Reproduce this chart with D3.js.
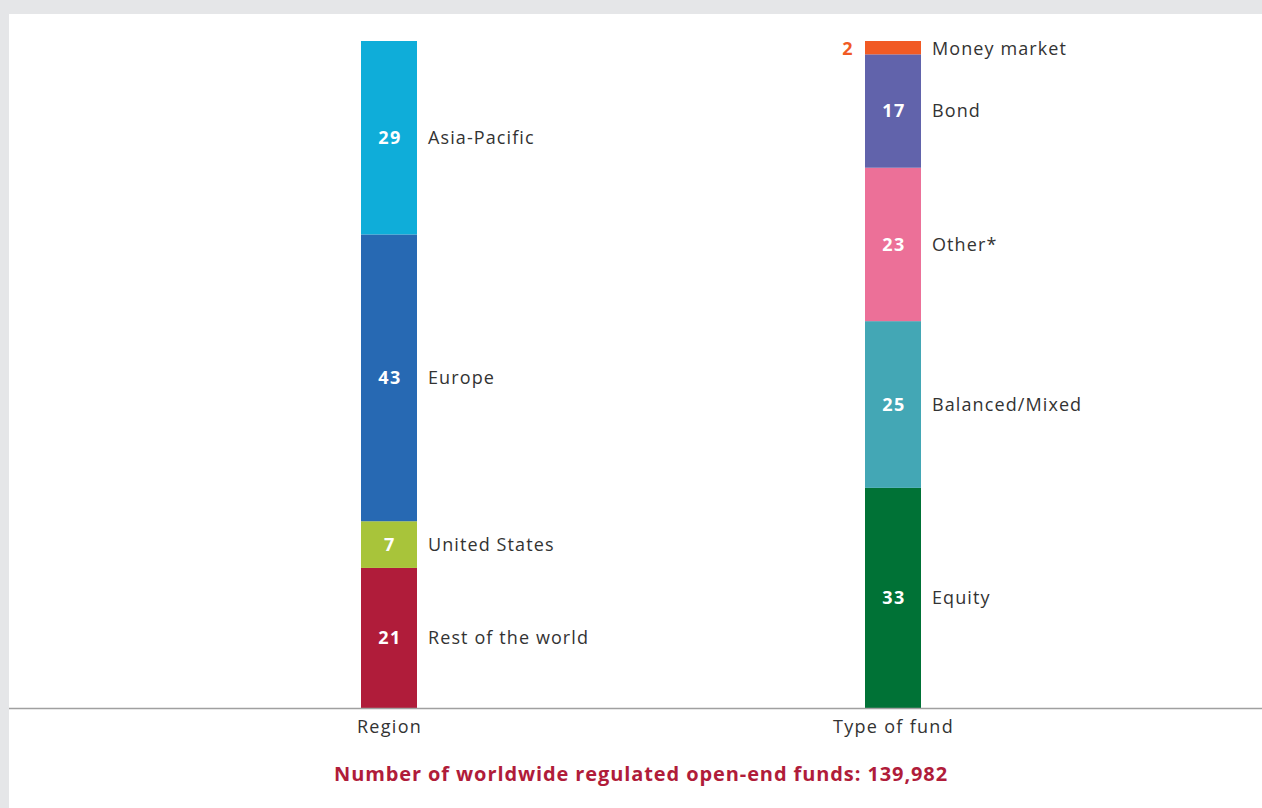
<!DOCTYPE html>
<html>
<head>
<meta charset="utf-8">
<script src="https://cdn.jsdelivr.net/npm/d3@7"></script>
<style>
  html, body { margin: 0; padding: 0; background: #e5e6e8; }
  #chart { position: absolute; left: 9px; top: 14px; width: 1253px; height: 794px; background: #fff; }
  svg { display: block; font-family: "Open Sans", "Noto Sans", sans-serif; }
</style>
</head>
<body>
<div id="chart"></div>
<script>
// --- Data ---
const groups = ["Region", "Type of fund"];

const regionNames = ["Rest of the world", "United States", "Europe", "Asia-Pacific"];
const regionValues = [21, 7, 43, 29];
const regionColors = ["#b01c3a", "#a8c43a", "#2769b3", "#0fadd9"];

const fundNames = ["Equity", "Balanced/Mixed", "Other*", "Bond", "Money market"];
const fundValues = [33, 25, 23, 17, 2];
const fundColors = ["#007236", "#43a7b5", "#ec7098", "#6163ab", "#f15a24"];

const totalFunds = "139,982";

document.addEventListener("DOMContentLoaded", () => {
    const width = 1253, height = 794;
    const svg = d3.select("#chart").append("svg")
        .attr("width", width)
        .attr("height", height);

    const x = d3.scalePoint().domain(groups).range([128, 1136]).padding(0.5);
    const y = d3.scaleLinear().domain([0, 100]).range([694, 27]);
    const barWidth = 56;

    // build stacked segments per group
    function stackSegments(group, names, values, colors) {
        let acc = 0;
        return names.map((n, i) => {
            const seg = { group, name: n, value: values[i], color: colors[i], y0: acc, y1: acc + values[i] };
            acc += values[i];
            return seg;
        });
    }
    const segments = [
        ...stackSegments("Region", regionNames, regionValues, regionColors),
        ...stackSegments("Type of fund", fundNames, fundValues, fundColors)
    ];

    const seg = svg.append("g").selectAll("g")
        .data(segments)
        .join("g");

    seg.append("rect")
        .attr("x", d => x(d.group) - barWidth / 2)
        .attr("width", barWidth)
        .attr("y", d => y(d.y1))
        .attr("height", d => y(d.y0) - y(d.y1))
        .attr("fill", d => d.color);

    // value labels (small segments get an outside label on the left)
    seg.append("text")
        .attr("x", d => d.value < 5 ? x(d.group) - barWidth / 2 - 11 : x(d.group) + 1)
        .attr("y", d => (y(d.y0) + y(d.y1)) / 2 + (d.value < 5 ? 1 : 0))
        .attr("dy", "0.35em")
        .attr("text-anchor", d => d.value < 5 ? "end" : "middle")
        .attr("fill", d => d.value < 5 ? d.color : "#fff")
        .attr("font-size", 18)
        .attr("font-weight", "bold")
        .attr("letter-spacing", 1.5)
        .text(d => d.value);

    // category labels
    seg.append("text")
        .attr("x", d => x(d.group) + barWidth / 2 + 11)
        .attr("y", d => (y(d.y0) + y(d.y1)) / 2 + (d.value < 5 ? 1 : 0))
        .attr("dy", "0.35em")
        .attr("fill", "#333")
        .attr("font-size", 18)
        .attr("letter-spacing", 1.1)
        .text(d => d.name);

    // baseline + axis
    svg.append("line")
        .attr("x1", 0).attr("x2", width)
        .attr("y1", y(0) + 0.5).attr("y2", y(0) + 0.5)
        .attr("stroke", "#a0a0a0")
        .attr("stroke-width", 1.5);

    const axis = svg.append("g")
        .attr("transform", `translate(0,${y(0)})`)
        .call(d3.axisBottom(x).tickSize(0).tickPadding(12));
    axis.select(".domain").remove();
    axis.selectAll("text")
        .attr("font-family", "'Open Sans', 'Noto Sans', sans-serif")
        .attr("font-size", 18)
        .attr("letter-spacing", 1.3)
        .attr("fill", "#333");

    svg.append("text")
        .attr("x", (x(groups[0]) + x(groups[1])) / 2)
        .attr("y", 760)
        .attr("dy", "0.35em")
        .attr("text-anchor", "middle")
        .attr("fill", "#b01c3a")
        .attr("font-size", 20)
        .attr("font-weight", "bold")
        .attr("letter-spacing", 0.9)
        .text(`Number of worldwide regulated open-end funds: ${totalFunds}`);
});
</script>
</body>
</html>
